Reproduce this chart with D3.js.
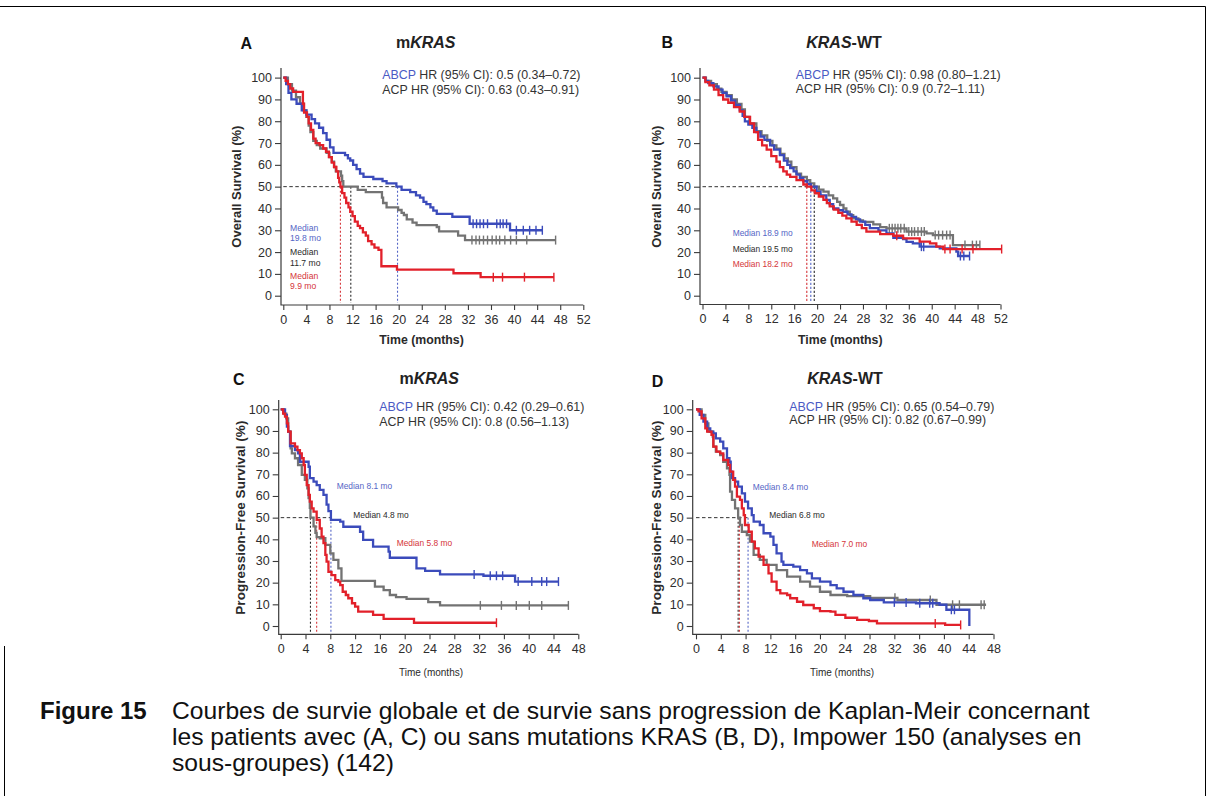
<!DOCTYPE html>
<html><head><meta charset="utf-8">
<script src="https://cdn.jsdelivr.net/npm/d3@7"></script>
<style>
html,body{margin:0;padding:0;background:#fff;}
svg text{font-family:"Liberation Sans",Arial,Helvetica,sans-serif;}
</style></head><body>
<svg id="fig" width="1211" height="796"></svg>
<script>
// ---- Kaplan-Meier step data: [month, survival %] at each drop ----
// Overall survival, mKRAS
const osMutAbcp = [[0,100],[0.5,97],[0.9,93],[1.4,90],[2.3,88],[3.2,85],[4,83],[4.9,81],[5.5,79],[6.2,77],[6.9,74.5],[7.5,71.5],[8.1,68],[8.7,65.5],[10.7,64.5],[11.2,63],[11.6,62],[12.1,60],[12.7,58],[13.3,56],[13.9,54.5],[15.6,53.5],[17.2,52.5],[17.9,51.5],[19.6,50],[20.5,48.5],[22,47.5],[23,46],[23.7,45],[24.3,43],[24.8,42],[25.5,40.5],[26,39],[26.6,37.5],[29.3,36.2],[32.3,33],[39.3,30],[44.9,30]];
const osMutAcp = [[0,100],[0.8,97],[1.5,94],[2.2,91],[2.9,88],[3.5,85],[4,82],[4.4,78],[4.7,75],[5.2,71],[5.8,69],[6.4,67.5],[7.5,65.5],[8,63.5],[8.4,61.5],[8.8,59],[9.1,57],[10,55],[10.2,52.5],[10.4,50],[12.9,48.5],[14.3,47.5],[17.1,45],[17.3,42.5],[17.9,40.5],[19.9,39.3],[20.5,38],[20.9,37],[21.4,35],[22.4,33.5],[23.1,32.4],[26.6,31.5],[27,29.5],[30.3,27.5],[31.5,25.5],[47.2,25.5]];
const osMutBcp = [[0,100],[0.4,98.5],[0.8,97],[1.2,95],[1.7,93.5],[3.4,88],[3.6,84],[4.1,82],[4.4,79],[4.8,76],[5.2,72],[5.6,70],[6.3,69],[6.9,67.5],[7.4,66],[7.9,63.5],[8.4,61],[8.8,59],[9.2,57],[9.5,54],[9.7,52],[9.9,50],[10.2,47],[10.6,45],[10.9,42.5],[11.3,40.5],[11.6,38.5],[12,36.5],[12.4,34],[12.9,32],[13.3,31],[13.8,29],[14.3,27.5],[14.7,25],[15.3,23.5],[15.8,22],[16.5,21],[17,13.5],[19.7,12],[29.5,10.3],[34.2,8.5],[46.9,8.5]];
const osMutAbcpCens = [32.9,33.5,34.1,34.7,35.4,37,37.6,38.1,38.7,40.4,41.6,42.7,43.8,44.9];
const osMutAcpCens = [32.7,33.4,34,34.7,35.4,36.2,36.9,37.5,38.4,39.4,40.4,42.2,47.2];
const osMutBcpCens = [36.4,38,41.8,46.9];

// Overall survival, KRAS-WT
const osWtAbcp = [[0,100],[0.5,98.5],[1,97.5],[1.9,96],[2.8,94.5],[3.5,93],[4.2,91.5],[5,89.5],[5.7,87.5],[6.5,85],[7,82.5],[7.4,80],[8,78.5],[8.7,77],[9.4,75],[10.1,73],[10.8,71.5],[11.8,69],[12.5,67],[13.5,64.5],[14.2,62],[14.8,60],[15.3,58.5],[15.9,57],[16.4,55.5],[17,54],[17.6,52.5],[18.3,51.2],[18.9,50],[19.9,47.7],[20.6,46],[21.6,44],[22.2,42],[22.8,40],[23.7,39.2],[24.5,38.5],[25.3,37.3],[26,36.2],[26.8,35],[27.5,34],[28.4,32.5],[29.2,31],[30.7,30],[32.1,28.6],[33.3,26.5],[35,26],[35.6,24.7],[36.7,24],[37.9,22.5],[41.4,21.7],[44.3,20.2],[44.6,18.2],[46.6,18.2]];
const osWtAcp = [[0,100],[0.6,98.5],[1.5,97],[2.5,95],[3.3,93.5],[4.2,92],[5.1,90],[6,88],[6.8,85.5],[7.4,82],[8.2,79],[9.4,75.5],[10.3,73.5],[11.3,71],[12.2,69],[12.9,67.5],[13.6,65],[14.3,63],[14.9,61.5],[15.5,59],[16.4,56],[17.2,54.5],[18.2,53],[18.8,51.5],[19.5,50],[20.3,48.7],[21.1,47.7],[22,46],[22.8,44.6],[23.5,43],[24,41.6],[24.6,40],[25.1,38.5],[25.7,37],[26.3,35.5],[27.2,34.5],[28,33.9],[29.8,32.7],[31,31.5],[32.1,30.9],[35.6,29.4],[39.1,28.6],[40.2,27.8],[43.7,23.2],[48.4,23.2]];
const osWtBcp = [[0,100],[0.5,98],[1.2,96.5],[2,94.5],[2.8,92],[3.6,90],[4.5,88.5],[5.5,86.5],[6.5,84.5],[7.3,82],[8.3,79],[9,75],[9.7,71.5],[10.4,69],[11.2,67],[12,64],[12.9,61.5],[13.5,59],[14.1,57],[14.7,55.5],[15.3,54.5],[16.4,53],[17.6,51],[18.2,50],[19,48.3],[19.6,47],[20.3,45.5],[21.1,44],[21.7,42.5],[22.2,41],[22.9,39.5],[23.7,38],[24.4,36.7],[25.1,35.5],[26,34],[26.9,32.5],[27.8,31],[28.6,29.4],[31,28.2],[33.3,27.5],[35,26.3],[37.9,24.8],[39.7,24],[40.8,22.5],[42,21.4],[52.2,21.4]];
const osWtAbcpCens = [38.2,38.6,45,45.6,46.6];
const osWtAcpCens = [32.6,33.1,33.6,34.1,34.6,35.2,36,36.5,37,37.6,38.2,38.7,40.6,41.2,41.9,42.6,43.2,45.8,47.1,47.8,48.4];
const osWtBcpCens = [33.9,42.3,43.2,45.3,47.2,52.2];

// Progression-free survival, mKRAS
const pfsMutAbcp = [[0,100],[0.7,97.4],[1,92],[1.2,89.7],[1.5,83],[2.3,81.2],[2.8,79.7],[3.1,75.8],[4.5,73.5],[4.7,68.2],[5.3,66.6],[5.8,65],[6.3,62.8],[6.9,60.5],[7.4,56],[7.7,53],[8.1,49],[9.6,48.2],[10.1,45.8],[12.8,43.5],[13.3,39.7],[14.9,36.6],[17.4,34.3],[17.6,31.5],[21.9,26.6],[23.3,25.4],[25.7,23.8],[32.7,23.2],[37.8,20.5],[44.8,20.5]];
const pfsMutAcp = [[0,100],[0.5,98],[0.9,95.8],[1.2,89.7],[1.6,82],[1.8,79.7],[2.3,77.4],[2.8,74.3],[3.4,69.7],[3.9,67.4],[4.3,63.5],[4.5,59],[4.7,54.5],[4.8,50],[5.3,46],[5.6,43],[5.8,41],[6.3,40.5],[7.2,37.4],[8,33.5],[8.5,30.5],[9.3,26.6],[9.8,20.8],[15.2,18.2],[16.6,16.6],[17.6,14.3],[18.6,13.3],[20.3,12.5],[23.8,11],[25.7,9.5],[46.4,9.5]];
const pfsMutBcp = [[0,100],[0.4,98],[0.7,96.6],[1,93.5],[1.2,89.7],[1.6,84.3],[2.3,82.8],[2.7,81.2],[3.1,79.7],[3.4,77.4],[3.7,74.3],[3.9,69.7],[4.2,65],[4.5,60.5],[4.7,57.4],[5,54.3],[5.3,52.8],[5.8,49],[6.3,45],[6.6,41.2],[6.9,38.2],[7.2,32.8],[7.4,29.7],[7.7,25],[8.2,23.5],[8.8,21.2],[9.3,20.5],[9.6,18.9],[10,15.8],[10.5,14.3],[10.9,12.8],[11.5,10.5],[12,8.9],[12.5,6.6],[14.9,5.1],[16.6,3.3],[21.5,1.5],[34.8,1.5]];
const pfsMutAbcpCens = [31.2,33.8,34.8,35.8,38.3,40.5,42.1,42.9,44.8];
const pfsMutAcpCens = [32.2,35.6,38,40.1,42.1,46.4];
const pfsMutBcpCens = [34.8];

// Progression-free survival, KRAS-WT
const pfsWtAbcp = [[0,100],[0.6,97.4],[1.2,94.3],[1.8,91.2],[2.3,89.7],[2.8,88.9],[3.2,86.6],[3.9,85.1],[4.4,82],[5,77.4],[5.4,75.8],[5.6,71.2],[5.8,68.2],[6.3,66.6],[6.8,64.3],[7.4,61.2],[7.9,57.4],[8.4,54.3],[9,51.2],[9.3,48.2],[10.3,46.6],[10.9,42.8],[12,41.2],[12.5,37.4],[13,33.5],[13.8,29.7],[14.1,28.2],[15.7,27.4],[16.8,25.8],[17.9,24.3],[18.7,22],[20,20.5],[21.7,18.9],[22.7,17.4],[23.8,15.8],[25.4,14.3],[27,12.8],[28.1,12],[30.3,10.9],[35.5,10.5],[39.3,9.8],[40.4,7.5],[44.1,0]];
const pfsWtAcp = [[0,100],[0.9,97.4],[1.5,93.5],[2,89.7],[2.7,87.4],[2.8,82.8],[3.2,80.5],[3.9,78.9],[4.4,75.8],[5,72.8],[5.4,69.7],[5.5,62],[5.8,58.2],[6.3,54.3],[6.8,50],[7.1,46.6],[7.4,43.5],[8.2,42],[8.7,38.9],[9.3,32.8],[10.3,30.5],[11.4,28.2],[13,25.8],[14.7,22.8],[16.8,20.5],[18.4,18.2],[20,15.8],[21.7,14.3],[24.4,13.8],[28.1,13],[32.5,12],[38.8,9.8],[46.8,9.8]];
const pfsWtBcp = [[0,100],[0.4,99],[0.9,95.8],[1.5,91.2],[1.8,89.7],[2.5,88.2],[2.8,82.8],[3.3,80.5],[3.9,79.7],[4.4,76.6],[5.2,74.3],[5.5,71.2],[6,67.4],[6.3,64.3],[6.6,59.7],[7.1,58.2],[7.4,54.3],[7.7,51.2],[7.9,46.6],[8.5,43.5],[9,38.9],[9.5,35.8],[10.1,32],[10.9,28.2],[11.7,24.3],[12.2,20.5],[13,16.6],[13.6,15.1],[14.7,14.3],[15.2,12.8],[16.3,11.2],[17.3,9.7],[19,8.2],[20,6.9],[21.7,6.6],[22.5,5.1],[24.1,3.8],[26,2.8],[27.9,2.3],[29.2,1.2],[40.2,0.5],[42.7,0.5]];
const pfsWtAbcpCens = [32,33.9,36.1,37.7,38.2,41.2,41.7];
const pfsWtAcpCens = [32.1,37.8,41.4,42.5,46,46.5];
const pfsWtBcpCens = [38.6,42.7];

// Medians (months): ABCP, ACP, BCP
const medOsMut = [19.8, 11.7, 9.9];
const medOsWt = [18.9, 19.5, 18.2];
const medPfsMut = [8.1, 4.8, 5.8];
const medPfsWt = [8.4, 6.8, 7.0];

// Hazard ratios vs BCP
const hrOsMut = ["0.5 (0.34–0.72)", "0.63 (0.43–0.91)"];
const hrOsWt = ["0.98 (0.80–1.21)", "0.9 (0.72–1.11)"];
const hrPfsMut = ["0.42 (0.29–0.61)", "0.8 (0.56–1.13)"];
const hrPfsWt = ["0.65 (0.54–0.79)", "0.82 (0.67–0.99)"];

const armNames = ["ABCP", "ACP", "BCP"];
const yTicks = [0,10,20,30,40,50,60,70,80,90,100];
const xTicksOs = [0,4,8,12,16,20,24,28,32,36,40,44,48,52];
const xTicksPfs = [0,4,8,12,16,20,24,28,32,36,40,44,48];

const captionLabel = "Figure 15";
const captionLines = [
  "Courbes de survie globale et de survie sans progression de Kaplan-Meir concernant",
  "les patients avec (A, C) ou sans mutations KRAS (B, D), Impower 150 (analyses en",
  "sous-groupes) (142)"
];

// ---- drawing ----
const armColor = ["#3b4bbb", "#737373", "#e2202a"];
const medColor = ["#5566c6", "#2a2a2a", "#d5353a"];
const svg = d3.select("#fig");

// page frame
svg.append("line").attr("x1",0).attr("x2",1205.5).attr("y1",6.5).attr("y2",6.5).attr("stroke","#000").attr("stroke-width",1);
svg.append("line").attr("x1",1205.5).attr("x2",1205.5).attr("y1",6.5).attr("y2",796).attr("stroke","#000").attr("stroke-width",1);
svg.append("line").attr("x1",4.5).attr("x2",4.5).attr("y1",646).attr("y2",796).attr("stroke","#000").attr("stroke-width",1);

const panels = [
  { letter:"A", titleKind:"mut", curves:[osMutAbcp,osMutAcp,osMutBcp], cens:[osMutAbcpCens,osMutAcpCens,osMutBcpCens],
    med:medOsMut, hr:hrOsMut, xTicks:xTicksOs, yTitle:"Overall Survival (%)", yTitleSize:13,
    x0:283.3, x1:583.3, y0:295.7, y100:77.6, axX:281, axY:305, yTop:68,
    letterX:240.5, letterY:42.8, titleX:425.7, titleY:42.6, hrX:382.3, hrY:75, hrDy:14.3,
    yTitleX:236.7, xTitle:{x:421.5, y:340, size:12.3, bold:true}, medStyle:"stack",
    medPos:[[290,227.7],[290,252.3],[290,275.7]] },
  { letter:"B", titleKind:"wt", curves:[osWtAbcp,osWtAcp,osWtBcp], cens:[osWtAbcpCens,osWtAcpCens,osWtBcpCens],
    med:medOsWt, hr:hrOsWt, xTicks:xTicksOs, yTitle:"Overall Survival (%)", yTitleSize:13,
    x0:702.5, x1:1000.5, y0:295.7, y100:77.7, axX:700, axY:304.5, yTop:68,
    letterX:661.5, letterY:42, titleX:844, titleY:41.8, hrX:795.7, hrY:75, hrDy:13.5,
    yTitleX:656.7, xTitle:{x:840.3, y:340, size:12.3, bold:true}, medStyle:"line",
    medPos:[[732.7,233.3],[732.7,249],[732.7,264.3]] },
  { letter:"C", titleKind:"mut", curves:[pfsMutAbcp,pfsMutAcp,pfsMutBcp], cens:[pfsMutAbcpCens,pfsMutAcpCens,pfsMutBcpCens],
    med:medPfsMut, hr:hrPfsMut, xTicks:xTicksPfs, yTitle:"Progression-Free Survival (%)", yTitleSize:13.6,
    x0:280.7, x1:578.3, y0:626, y100:409.3, axX:278.7, axY:634.3, yTop:400,
    letterX:233, letterY:379.5, titleX:429.2, titleY:378.5, hrX:379.3, hrY:406.7, hrDy:15,
    yTitleX:240.5, xTitle:{x:431, y:672, size:10, bold:false, narrow:true}, medStyle:"line",
    medPos:[[336.7,485.7],[353.3,515],[396.7,543.3]] },
  { letter:"D", titleKind:"wt", curves:[pfsWtAbcp,pfsWtAcp,pfsWtBcp], cens:[pfsWtAbcpCens,pfsWtAcpCens,pfsWtBcpCens],
    med:medPfsWt, hr:hrPfsWt, xTicks:xTicksPfs, yTitle:"Progression-Free Survival (%)", yTitleSize:13.6,
    x0:696, x1:993.5, y0:626, y100:409.3, axX:692.7, axY:634.3, yTop:400,
    letterX:651.7, letterY:381.5, titleX:845, titleY:378.5, hrX:789.3, hrY:406.7, hrDy:12.8,
    yTitleX:656.7, xTitle:{x:842, y:672, size:10, bold:false, narrow:true}, medStyle:"line",
    medPos:[[752.7,486.7],[769.3,515],[811.7,544]] }
];

function valueAt(steps, t) {
  const i = d3.bisector(d => d[0]).right(steps, t) - 1;
  return steps[Math.max(0, i)][1];
}

panels.forEach(p => {
  const xMax = p.xTicks[p.xTicks.length - 1];
  const x = d3.scaleLinear().domain([0, xMax]).range([p.x0, p.x1]);
  const y = d3.scaleLinear().domain([0, 100]).range([p.y0, p.y100]);
  const g = svg.append("g");

  // axes
  const ya = g.append("g").attr("transform", `translate(${p.axX},0)`)
    .call(d3.axisLeft(y).tickValues(yTicks).tickSize(6).tickSizeOuter(0).tickPadding(3));
  ya.select(".domain").remove();
  const xa = g.append("g").attr("transform", `translate(0,${p.axY})`)
    .call(d3.axisBottom(x).tickValues(p.xTicks).tickSize(5).tickSizeOuter(0).tickPadding(5));
  xa.select(".domain").remove();
  [ya, xa].forEach(a => {
    a.selectAll(".tick line").attr("stroke", "#3a3a3a").attr("stroke-width", 1.1);
    a.selectAll(".tick text").attr("font-size", "12.5px").attr("fill", "#2e2e2e")
      .style("font-family", '"Liberation Sans",Arial,sans-serif');
  });
  g.append("path").attr("d", `M${p.axX},${p.yTop}V${p.axY}H${x(xMax)}`)
    .attr("fill", "none").attr("stroke", "#3a3a3a").attr("stroke-width", 1.2);

  // axis titles
  g.append("text").attr("transform", `translate(${p.yTitleX},${(p.y0 + p.y100) / 2}) rotate(-90)`)
    .attr("text-anchor", "middle").attr("dy", "0.35em")
    .attr("font-size", p.yTitleSize + "px").attr("font-weight", "bold").attr("fill", "#2a2a2a")
    .text(p.yTitle);
  const xt = g.append("text").attr("x", p.xTitle.x).attr("y", p.xTitle.y).attr("dy", "0.35em")
    .attr("text-anchor", "middle").attr("font-size", p.xTitle.size + "px")
    .attr("font-weight", p.xTitle.bold ? "bold" : "normal").attr("fill", "#2a2a2a").text("Time (months)");
  if (p.xTitle.narrow) xt.style("font-family", '"Liberation Sans Narrow","Arial Narrow","Liberation Sans",sans-serif');

  // panel letter and title
  g.append("text").attr("x", p.letterX).attr("y", p.letterY).attr("dy", "0.36em")
    .attr("font-size", "16px").attr("font-weight", "bold").attr("fill", "#111").text(p.letter);
  const tt = g.append("text").attr("x", p.titleX).attr("y", p.titleY).attr("dy", "0.36em")
    .attr("text-anchor", "middle").attr("font-size", "16px").attr("font-weight", "bold").attr("fill", "#222");
  if (p.titleKind === "mut") {
    tt.append("tspan").text("m");
    tt.append("tspan").attr("font-style", "italic").text("KRAS");
  } else {
    tt.append("tspan").attr("font-style", "italic").text("KRAS");
    tt.append("tspan").text("-WT");
  }

  // hazard ratio notes
  const h1 = g.append("text").attr("x", p.hrX).attr("y", p.hrY).attr("dy", "0.35em")
    .attr("font-size", "12.4px").attr("fill", "#333");
  h1.append("tspan").attr("fill", "#4a5ac4").text(armNames[0]);
  h1.append("tspan").text(" HR (95% CI): " + p.hr[0]);
  g.append("text").attr("x", p.hrX).attr("y", p.hrY + p.hrDy).attr("dy", "0.35em")
    .attr("font-size", "12.4px").attr("fill", "#333")
    .text(armNames[1] + " HR (95% CI): " + p.hr[1]);

  // median reference lines
  g.append("line").attr("x1", x(0)).attr("x2", x(d3.max(p.med))).attr("y1", y(50)).attr("y2", y(50))
    .attr("stroke", "#333").attr("stroke-width", 1).attr("stroke-dasharray", "3.5,2.5");
  [1, 2, 0].forEach(i => {
    g.append("line").attr("x1", x(p.med[i])).attr("x2", x(p.med[i]))
      .attr("y1", y(50)).attr("y2", p.axY - 2)
      .attr("stroke", medColor[i]).attr("stroke-width", 1.1).attr("stroke-dasharray", "2.2,1.8");
  });

  // curves
  const line = d3.line().x(d => x(d[0])).y(d => y(d[1])).curve(d3.curveStepAfter);
  [1, 0, 2].forEach(i => {
    g.append("path").datum(p.curves[i]).attr("d", line)
      .attr("fill", "none").attr("stroke", armColor[i]).attr("stroke-width", 2.3);
    g.selectAll(null).data(p.cens[i]).join("line")
      .attr("x1", t => x(t)).attr("x2", t => x(t))
      .attr("y1", t => y(valueAt(p.curves[i], t)) - 4.5)
      .attr("y2", t => y(valueAt(p.curves[i], t)) + 4.5)
      .attr("stroke", armColor[i]).attr("stroke-width", 1.4);
  });

  // median labels
  p.med.forEach((m, i) => {
    const [lx, ly] = p.medPos[i];
    const fmt = d3.format(".1f")(m) + " mo";
    if (p.medStyle === "stack") {
      g.append("text").attr("x", lx).attr("y", ly).attr("dy", "0.35em").attr("font-size", "8.6px")
        .attr("fill", medColor[i]).text("Median");
      g.append("text").attr("x", lx).attr("y", ly + 10.6).attr("dy", "0.35em").attr("font-size", "8.6px")
        .attr("fill", medColor[i]).text(fmt);
    } else {
      g.append("text").attr("x", lx).attr("y", ly).attr("dy", "0.35em").attr("font-size", "8.4px")
        .attr("fill", medColor[i]).text("Median " + fmt);
    }
  });
});

// caption
const cap = svg.append("g");
cap.append("text").attr("x", 40).attr("y", 718.5).attr("font-size", "24px").attr("font-weight", "bold")
  .attr("fill", "#111").text(captionLabel);
captionLines.forEach((t, i) => {
  cap.append("text").attr("x", 172).attr("y", 718.5 + i * 26).attr("font-size", "24.65px")
    .attr("fill", "#111").text(t);
});
</script>
</body></html>
